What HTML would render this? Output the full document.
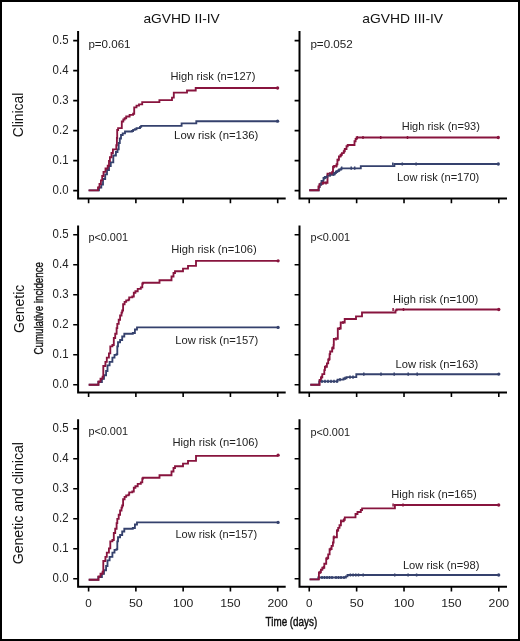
<!DOCTYPE html>
<html><head><meta charset="utf-8"><style>
html,body{margin:0;padding:0;background:#fff;}
#wrap{position:relative;width:520px;height:641px;overflow:hidden;}
#wrap svg{position:absolute;left:0;top:0;display:block;filter:blur(0.3px);}
#wrap svg text{font-family:"Liberation Sans",sans-serif;}
#frame{position:absolute;left:0;top:0;width:520px;height:641px;box-sizing:border-box;border:2px solid #000;}
</style></head><body><div id="wrap">
<svg width="520" height="641" viewBox="0 0 520 641">
<rect x="0" y="0" width="520" height="641" fill="#fff"/>
<path d="M78.1,31.1 V198.6 H285.7" fill="none" stroke="#000" stroke-width="2" stroke-linejoin="miter"/>
<path d="M73.2,190.65 H78.1 M73.2,160.65 H78.1 M73.2,130.65 H78.1 M73.2,100.65 H78.1 M73.2,70.65 H78.1 M73.2,40.65 H78.1 M88.6,198.6 V203.2 M135.88,198.6 V203.2 M183.15,198.6 V203.2 M230.42,198.6 V203.2 M277.7,198.6 V203.2 " fill="none" stroke="#000" stroke-width="1.6"/>
<text x="68.5" y="194.4" text-anchor="end" font-size="12.2" fill="#222" font-family="&quot;Liberation Sans&quot;, sans-serif" textLength="15.9" lengthAdjust="spacingAndGlyphs">0.0</text>
<text x="68.5" y="164.4" text-anchor="end" font-size="12.2" fill="#222" font-family="&quot;Liberation Sans&quot;, sans-serif" textLength="15.9" lengthAdjust="spacingAndGlyphs">0.1</text>
<text x="68.5" y="134.4" text-anchor="end" font-size="12.2" fill="#222" font-family="&quot;Liberation Sans&quot;, sans-serif" textLength="15.9" lengthAdjust="spacingAndGlyphs">0.2</text>
<text x="68.5" y="104.4" text-anchor="end" font-size="12.2" fill="#222" font-family="&quot;Liberation Sans&quot;, sans-serif" textLength="15.9" lengthAdjust="spacingAndGlyphs">0.3</text>
<text x="68.5" y="74.4" text-anchor="end" font-size="12.2" fill="#222" font-family="&quot;Liberation Sans&quot;, sans-serif" textLength="15.9" lengthAdjust="spacingAndGlyphs">0.4</text>
<text x="68.5" y="44.4" text-anchor="end" font-size="12.2" fill="#222" font-family="&quot;Liberation Sans&quot;, sans-serif" textLength="15.9" lengthAdjust="spacingAndGlyphs">0.5</text>
<path d="M299.5,31.1 V198.6 H507" fill="none" stroke="#000" stroke-width="2" stroke-linejoin="miter"/>
<path d="M294.6,190.65 H299.5 M294.6,160.65 H299.5 M294.6,130.65 H299.5 M294.6,100.65 H299.5 M294.6,70.65 H299.5 M294.6,40.65 H299.5 M309.25,198.6 V203.2 M356.64,198.6 V203.2 M404.02,198.6 V203.2 M451.41,198.6 V203.2 M498.8,198.6 V203.2 " fill="none" stroke="#000" stroke-width="1.6"/>
<path d="M78.1,225.4 V392.5 H285.7" fill="none" stroke="#000" stroke-width="2" stroke-linejoin="miter"/>
<path d="M73.2,384.7 H78.1 M73.2,354.7 H78.1 M73.2,324.7 H78.1 M73.2,294.7 H78.1 M73.2,264.7 H78.1 M73.2,234.7 H78.1 M88.6,392.5 V397.1 M135.88,392.5 V397.1 M183.15,392.5 V397.1 M230.42,392.5 V397.1 M277.7,392.5 V397.1 " fill="none" stroke="#000" stroke-width="1.6"/>
<text x="68.5" y="388.45" text-anchor="end" font-size="12.2" fill="#222" font-family="&quot;Liberation Sans&quot;, sans-serif" textLength="15.9" lengthAdjust="spacingAndGlyphs">0.0</text>
<text x="68.5" y="358.45" text-anchor="end" font-size="12.2" fill="#222" font-family="&quot;Liberation Sans&quot;, sans-serif" textLength="15.9" lengthAdjust="spacingAndGlyphs">0.1</text>
<text x="68.5" y="328.45" text-anchor="end" font-size="12.2" fill="#222" font-family="&quot;Liberation Sans&quot;, sans-serif" textLength="15.9" lengthAdjust="spacingAndGlyphs">0.2</text>
<text x="68.5" y="298.45" text-anchor="end" font-size="12.2" fill="#222" font-family="&quot;Liberation Sans&quot;, sans-serif" textLength="15.9" lengthAdjust="spacingAndGlyphs">0.3</text>
<text x="68.5" y="268.45" text-anchor="end" font-size="12.2" fill="#222" font-family="&quot;Liberation Sans&quot;, sans-serif" textLength="15.9" lengthAdjust="spacingAndGlyphs">0.4</text>
<text x="68.5" y="238.45" text-anchor="end" font-size="12.2" fill="#222" font-family="&quot;Liberation Sans&quot;, sans-serif" textLength="15.9" lengthAdjust="spacingAndGlyphs">0.5</text>
<path d="M299.5,225.4 V392.5 H507" fill="none" stroke="#000" stroke-width="2" stroke-linejoin="miter"/>
<path d="M294.6,384.7 H299.5 M294.6,354.7 H299.5 M294.6,324.7 H299.5 M294.6,294.7 H299.5 M294.6,264.7 H299.5 M294.6,234.7 H299.5 M309.25,392.5 V397.1 M356.64,392.5 V397.1 M404.02,392.5 V397.1 M451.41,392.5 V397.1 M498.8,392.5 V397.1 " fill="none" stroke="#000" stroke-width="1.6"/>
<path d="M78.1,419.3 V586.8 H285.7" fill="none" stroke="#000" stroke-width="2" stroke-linejoin="miter"/>
<path d="M73.2,578.7 H78.1 M73.2,548.7 H78.1 M73.2,518.7 H78.1 M73.2,488.7 H78.1 M73.2,458.7 H78.1 M73.2,428.7 H78.1 M88.6,586.8 V591.4 M135.88,586.8 V591.4 M183.15,586.8 V591.4 M230.42,586.8 V591.4 M277.7,586.8 V591.4 " fill="none" stroke="#000" stroke-width="1.6"/>
<text x="68.5" y="582.45" text-anchor="end" font-size="12.2" fill="#222" font-family="&quot;Liberation Sans&quot;, sans-serif" textLength="15.9" lengthAdjust="spacingAndGlyphs">0.0</text>
<text x="68.5" y="552.45" text-anchor="end" font-size="12.2" fill="#222" font-family="&quot;Liberation Sans&quot;, sans-serif" textLength="15.9" lengthAdjust="spacingAndGlyphs">0.1</text>
<text x="68.5" y="522.45" text-anchor="end" font-size="12.2" fill="#222" font-family="&quot;Liberation Sans&quot;, sans-serif" textLength="15.9" lengthAdjust="spacingAndGlyphs">0.2</text>
<text x="68.5" y="492.45" text-anchor="end" font-size="12.2" fill="#222" font-family="&quot;Liberation Sans&quot;, sans-serif" textLength="15.9" lengthAdjust="spacingAndGlyphs">0.3</text>
<text x="68.5" y="462.45" text-anchor="end" font-size="12.2" fill="#222" font-family="&quot;Liberation Sans&quot;, sans-serif" textLength="15.9" lengthAdjust="spacingAndGlyphs">0.4</text>
<text x="68.5" y="432.45" text-anchor="end" font-size="12.2" fill="#222" font-family="&quot;Liberation Sans&quot;, sans-serif" textLength="15.9" lengthAdjust="spacingAndGlyphs">0.5</text>
<text x="88.6" y="606.5" text-anchor="middle" font-size="11.6" fill="#222" font-family="&quot;Liberation Sans&quot;, sans-serif" textLength="6.5" lengthAdjust="spacingAndGlyphs">0</text>
<text x="135.88" y="606.5" text-anchor="middle" font-size="11.6" fill="#222" font-family="&quot;Liberation Sans&quot;, sans-serif" textLength="13.9" lengthAdjust="spacingAndGlyphs">50</text>
<text x="183.15" y="606.5" text-anchor="middle" font-size="11.6" fill="#222" font-family="&quot;Liberation Sans&quot;, sans-serif" textLength="20.4" lengthAdjust="spacingAndGlyphs">100</text>
<text x="230.42" y="606.5" text-anchor="middle" font-size="11.6" fill="#222" font-family="&quot;Liberation Sans&quot;, sans-serif" textLength="20.4" lengthAdjust="spacingAndGlyphs">150</text>
<text x="277.7" y="606.5" text-anchor="middle" font-size="11.6" fill="#222" font-family="&quot;Liberation Sans&quot;, sans-serif" textLength="20.4" lengthAdjust="spacingAndGlyphs">200</text>
<path d="M299.5,419.3 V586.8 H507" fill="none" stroke="#000" stroke-width="2" stroke-linejoin="miter"/>
<path d="M294.6,578.7 H299.5 M294.6,548.7 H299.5 M294.6,518.7 H299.5 M294.6,488.7 H299.5 M294.6,458.7 H299.5 M294.6,428.7 H299.5 M309.25,586.8 V591.4 M356.64,586.8 V591.4 M404.02,586.8 V591.4 M451.41,586.8 V591.4 M498.8,586.8 V591.4 " fill="none" stroke="#000" stroke-width="1.6"/>
<text x="309.25" y="606.5" text-anchor="middle" font-size="11.6" fill="#222" font-family="&quot;Liberation Sans&quot;, sans-serif" textLength="6.5" lengthAdjust="spacingAndGlyphs">0</text>
<text x="356.64" y="606.5" text-anchor="middle" font-size="11.6" fill="#222" font-family="&quot;Liberation Sans&quot;, sans-serif" textLength="13.9" lengthAdjust="spacingAndGlyphs">50</text>
<text x="404.02" y="606.5" text-anchor="middle" font-size="11.6" fill="#222" font-family="&quot;Liberation Sans&quot;, sans-serif" textLength="20.4" lengthAdjust="spacingAndGlyphs">100</text>
<text x="451.41" y="606.5" text-anchor="middle" font-size="11.6" fill="#222" font-family="&quot;Liberation Sans&quot;, sans-serif" textLength="20.4" lengthAdjust="spacingAndGlyphs">150</text>
<text x="498.8" y="606.5" text-anchor="middle" font-size="11.6" fill="#222" font-family="&quot;Liberation Sans&quot;, sans-serif" textLength="20.4" lengthAdjust="spacingAndGlyphs">200</text>
<path d="M88.6,190.3 H99 V187.5 H101.3 V184.6 H103 V179 H105.2 V174.3 H107 V170 H109 V166 H110.75 V162.3 H113.3 V155.5 H115.9 V152 H117.5 V149.4 H118.7 V143 H119.8 V138.5 H121 V135 H122.7 V133.3 H125 V131.5 H131.9 V131 H133.1 V129.8 H134.8 V129.2 H136.5 V128.1 H140 V126.9 H141.2 V125.8 H181.6 V123.3 H196.3 V121.2 H277.6" fill="none" stroke="#35416d" stroke-width="1.85" stroke-linejoin="miter"/>
<path d="M88.6,190.3 H98 V187.5 H99.5 V184 H100.9 V180.3 H102.2 V176 H103.5 V171.8 H105.5 V168.5 H107.7 V165.7 H109 V161 H109.9 V157.2 H111.5 V153 H112.9 V149.4 H116.3 V145.2 H116.9 V138 H117.2 V130 H118.1 V128.1 H121.8 V121.5 H123.3 V119.5 H124.6 V118.2 H126.2 V116.5 H129.6 V114.8 H133.1 V113.7 H134.2 V107.3 H136.5 V105.6 H139 V104.4 H142.2 V102.1 H159.4 V100.1 H172 V97.6 H173.8 V92.6 H187 V90.5 H195.7 V88 H277.6" fill="none" stroke="#88143e" stroke-width="1.85" stroke-linejoin="miter"/>
<path d="" fill="none" stroke="#35416d" stroke-width="1.5"/>
<circle cx="277.6" cy="121.2" r="1.65" fill="#35416d"/>
<path d="" fill="none" stroke="#88143e" stroke-width="1.5"/>
<circle cx="277.6" cy="88" r="1.65" fill="#88143e"/>
<path d="M309.2,190.2 H318.8 V187 H319.7 V184.2 H321.5 V181 H323.5 V178 H325 V177 H327.4 V175.5 H330 V174.8 H333.5 V174.2 H334.8 V173 H335.8 V172 H337 V171.2 H338.2 V170.4 H339.5 V169.5 H341.2 V168.4 H360.8 V166.1 H394.4 V164 H498.3" fill="none" stroke="#35416d" stroke-width="1.85" stroke-linejoin="miter"/>
<path d="M309.2,190.2 H318.5 V186.5 H319.5 V184.5 H320.6 V183.7 H322.3 V182.9 H327.5 V173.6 H332 V172.2 H333 V166.6 H334.5 V165.8 H336.6 V164.2 H337.4 V159.6 H338.9 V156.5 H340.5 V154.8 H341.9 V153.1 H343.7 V151.3 H344.8 V149 H346.5 V146.2 H347.7 V145 H354.5 V141.2 H355.6 V139 H356.6 V137.5 H498.3" fill="none" stroke="#88143e" stroke-width="1.85" stroke-linejoin="miter"/>
<path d="M341.7,166.6 V169.8 M351.2,166.6 V169.8 M354.7,166.6 V169.8 " fill="none" stroke="#35416d" stroke-width="1.5"/>
<path d="M392.8,162.4 V165.6 M402.3,162.4 V165.6 M416.1,162.4 V165.6 " fill="none" stroke="#35416d" stroke-width="1.5"/>
<circle cx="498.3" cy="164" r="1.65" fill="#35416d"/>
<path d="M357.3,135.9 V139.1 M363,135.9 V139.1 M380.7,135.9 V139.1 M407.5,135.9 V139.1 " fill="none" stroke="#88143e" stroke-width="1.5"/>
<circle cx="498.3" cy="137.5" r="1.65" fill="#88143e"/>
<path d="M323.5,181.3 V184.5 M326,181.3 V184.5 M330,172 V175.2 M334,165 V168.2 M336.5,164.2 V167.4 M338.6,158 V161.2 M341.3,153.2 V156.4 M344,149.7 V152.9 " fill="none" stroke="#88143e" stroke-width="1.5"/>
<path d="M321,182.6 V185.8 M324.5,176.4 V179.6 M327,175.4 V178.6 M330,173.2 V176.4 M333.5,172.6 V175.8 M336,170.4 V173.6 M339,168.8 V172 " fill="none" stroke="#35416d" stroke-width="1.5"/>
<path d="M88.7,384.7 H98.3 V382 H101.9 V378.7 H104 V375.2 H106.1 V371 H107.5 V365.3 H109.6 V361.8 H112.4 V357.6 H114.5 V354.8 H116.6 V354.1 H117.3 V346.4 H118 V342.2 H120.1 V340 H122.2 V336.5 H124.3 V333.7 H132.8 V333 H134.9 V329.5 H137 V327.4 H278.1" fill="none" stroke="#35416d" stroke-width="1.85" stroke-linejoin="miter"/>
<path d="M88.7,384.7 H98.5 V381.5 H100.5 V378.7 H102.6 V376.6 H103.3 V366 H105.4 V361.8 H106.8 V357.6 H108.9 V353.4 H110.3 V346.4 H112.4 V345 H113.8 V338 H115.2 V333.7 H116.6 V328.1 H117.3 V323.9 H118.7 V319.7 H120.1 V315.5 H121.5 V312.6 H122.2 V310.5 H123.1 V304.2 H124.6 V301.9 H126.2 V300.4 H128.5 V299.6 H129.2 V297.3 H132.3 V296.5 H133.8 V292.7 H135.4 V291.2 H137.7 V288.8 H140.8 V287.3 H142.3 V283.5 H143.1 V282.7 H159.5 V280.2 H171.5 V276.5 H173.5 V273 H175 V271.2 H183 V268.6 H188 V265.8 H196 V260.8 H278.1" fill="none" stroke="#88143e" stroke-width="1.85" stroke-linejoin="miter"/>
<path d="" fill="none" stroke="#35416d" stroke-width="1.5"/>
<circle cx="278.1" cy="327.4" r="1.65" fill="#35416d"/>
<path d="" fill="none" stroke="#88143e" stroke-width="1.5"/>
<circle cx="278.1" cy="260.8" r="1.65" fill="#88143e"/>
<path d="M310.3,384.7 H319.2 V381.4 H337.6 V379.6 H343.5 V378.4 H346.5 V377.1 H356.3 V374.2 H498.8" fill="none" stroke="#35416d" stroke-width="1.85" stroke-linejoin="miter"/>
<path d="M310.3,384.7 H319.6 V380 H320.9 V377.4 H322.3 V374.1 H324.3 V370.1 H324.9 V366.8 H326.9 V363.4 H328.2 V359.4 H329.6 V354.1 H330.2 V351.5 H332.2 V348.2 H333.6 V344.8 H333.8 V338.9 H337.8 V328.5 H340.7 V322.5 H344.7 V319 H356 V316.4 H362 V312.5 H395.5 V310.4 H396.6 V309.5 H498.8" fill="none" stroke="#88143e" stroke-width="1.85" stroke-linejoin="miter"/>
<path d="M322,379.8 V383 M325,379.8 V383 M328,379.8 V383 M331,379.8 V383 M334,379.8 V383 M337,379.8 V383 M340,378 V381.2 M345,376.8 V380 M350,375.5 V378.7 M353,375.5 V378.7 " fill="none" stroke="#35416d" stroke-width="1.5"/>
<path d="M321.5,375.8 V379 M325.5,365.2 V368.4 M329,357.8 V361 M332.5,346.6 V349.8 M336,337.3 V340.5 M339.5,326.9 V330.1 M343,320.9 V324.1 " fill="none" stroke="#88143e" stroke-width="1.5"/>
<path d="M363.8,372.5 V375.7 M381,372.5 V375.7 M394.2,372.5 V375.7 M408.2,372.5 V375.7 M417.2,372.5 V375.7 " fill="none" stroke="#35416d" stroke-width="1.5"/>
<circle cx="498.8" cy="374.1" r="1.65" fill="#35416d"/>
<path d="M393.1,307.9 V311.1 M403.5,307.9 V311.1 " fill="none" stroke="#88143e" stroke-width="1.5"/>
<circle cx="498.8" cy="309.5" r="1.65" fill="#88143e"/>
<path d="M88.7,579.7 H98.3 V577 H101.9 V573.7 H104 V570.2 H106.1 V566 H107.5 V560.3 H109.6 V556.8 H112.4 V552.6 H114.5 V549.8 H116.6 V549.1 H117.3 V541.4 H118 V537.2 H120.1 V535 H122.2 V531.5 H124.3 V528.7 H132.8 V528 H134.9 V524.5 H137 V522.4 H278.1" fill="none" stroke="#35416d" stroke-width="1.85" stroke-linejoin="miter"/>
<path d="M88.7,579.7 H98.5 V576.5 H100.5 V573.7 H102.6 V571.6 H103.3 V561 H105.4 V556.8 H106.8 V552.6 H108.9 V548.4 H110.3 V541.4 H112.4 V540 H113.8 V533 H115.2 V528.7 H116.6 V523.1 H117.3 V518.9 H118.7 V514.7 H120.1 V510.5 H121.5 V507.6 H122.2 V505.5 H123.1 V499.2 H124.6 V496.9 H126.2 V495.4 H128.5 V494.6 H129.2 V492.3 H132.3 V491.5 H133.8 V487.7 H135.4 V486.2 H137.7 V483.8 H140.8 V482.3 H142.3 V478.5 H143.1 V477.7 H159.5 V475.2 H171.5 V471.5 H173.5 V468 H175 V466.2 H183 V463.6 H188 V460.8 H196 V455.8 H278.1" fill="none" stroke="#88143e" stroke-width="1.85" stroke-linejoin="miter"/>
<path d="" fill="none" stroke="#35416d" stroke-width="1.5"/>
<circle cx="278.1" cy="522.4" r="1.65" fill="#35416d"/>
<path d="" fill="none" stroke="#88143e" stroke-width="1.5"/>
<circle cx="278.1" cy="455.2" r="1.65" fill="#88143e"/>
<path d="M309.6,579.3 H318.3 V577.5 H345.9 V576.4 H347.5 V575 H498.7" fill="none" stroke="#35416d" stroke-width="1.85" stroke-linejoin="miter"/>
<path d="M309.6,579.3 H318.9 V572.4 H320.9 V569.7 H322.3 V567.7 H324.3 V563.7 H326.2 V558.4 H328.2 V554.4 H329.6 V549.1 H331.6 V545.8 H332.9 V542.5 H333.6 V537.2 H336.9 V530.5 H338.2 V527.9 H339.5 V525.2 H340.9 V521.2 H343.5 V519.9 H344.8 V517.3 H355.5 V514 H357.5 V512 H360.8 V510 H362.1 V508.3 H394.9 V505 H498.7" fill="none" stroke="#88143e" stroke-width="1.85" stroke-linejoin="miter"/>
<path d="M322,575.9 V579.1 M324.5,575.9 V579.1 M327,575.9 V579.1 M329.5,575.9 V579.1 M332,575.9 V579.1 M336,575.9 V579.1 M338.5,575.9 V579.1 M341,575.9 V579.1 M344,575.9 V579.1 " fill="none" stroke="#35416d" stroke-width="1.5"/>
<path d="M350.4,573.4 V576.6 M353.1,573.4 V576.6 M355.8,573.4 V576.6 M358.5,573.4 V576.6 M363.2,573.4 V576.6 M394.7,573.4 V576.6 M408.1,573.4 V576.6 M416.6,573.4 V576.6 " fill="none" stroke="#35416d" stroke-width="1.5"/>
<circle cx="498.7" cy="575" r="1.65" fill="#35416d"/>
<path d="M393.1,503.4 V506.6 M403,503.4 V506.6 " fill="none" stroke="#88143e" stroke-width="1.5"/>
<circle cx="498.7" cy="505" r="1.65" fill="#88143e"/>
<path d="M320,570.8 V574 M323.5,566.1 V569.3 M327,556.8 V560 M330.5,547.5 V550.7 M334,535.6 V538.8 M337.5,528.9 V532.1 M341,519.6 V522.8 M344,518.3 V521.5 " fill="none" stroke="#88143e" stroke-width="1.5"/>
<text x="143.4" y="22.7" font-size="12.9" fill="#111" font-family="&quot;Liberation Sans&quot;, sans-serif" textLength="76.4" lengthAdjust="spacingAndGlyphs">aGVHD II-IV</text>
<text x="362.3" y="22.7" font-size="12.9" fill="#111" font-family="&quot;Liberation Sans&quot;, sans-serif" textLength="80.8" lengthAdjust="spacingAndGlyphs">aGVHD III-IV</text>
<text x="0" y="0" transform="translate(23,115) rotate(-90)" text-anchor="middle" font-size="13.8" fill="#111" font-family="&quot;Liberation Sans&quot;, sans-serif" textLength="44.6" lengthAdjust="spacingAndGlyphs">Clinical</text>
<text x="0" y="0" transform="translate(23.5,308.8) rotate(-90)" text-anchor="middle" font-size="13.8" fill="#111" font-family="&quot;Liberation Sans&quot;, sans-serif" textLength="48.2" lengthAdjust="spacingAndGlyphs">Genetic</text>
<text x="0" y="0" transform="translate(23,503.2) rotate(-90)" text-anchor="middle" font-size="13.8" fill="#111" font-family="&quot;Liberation Sans&quot;, sans-serif" textLength="122.3" lengthAdjust="spacingAndGlyphs">Genetic and clinical</text>
<text x="0" y="0" transform="translate(42.8,308.3) rotate(-90)" text-anchor="middle" font-size="12.3" fill="#111" font-family="&quot;Liberation Sans&quot;, sans-serif" textLength="92.4" lengthAdjust="spacingAndGlyphs" stroke="#111" stroke-width="0.35">Cumulative incidence</text>
<text x="265.6" y="626" font-size="13.0" fill="#111" font-family="&quot;Liberation Sans&quot;, sans-serif" textLength="51.6" lengthAdjust="spacingAndGlyphs" stroke="#111" stroke-width="0.45">Time (days)</text>
<text x="88.4" y="47.7" font-size="10.6" fill="#222" font-family="&quot;Liberation Sans&quot;, sans-serif" textLength="42.1" lengthAdjust="spacingAndGlyphs">p=0.061</text>
<text x="310.4" y="47.7" font-size="10.6" fill="#222" font-family="&quot;Liberation Sans&quot;, sans-serif" textLength="42.4" lengthAdjust="spacingAndGlyphs">p=0.052</text>
<text x="88.4" y="241" font-size="10.6" fill="#222" font-family="&quot;Liberation Sans&quot;, sans-serif" textLength="39.6" lengthAdjust="spacingAndGlyphs">p&lt;0.001</text>
<text x="310.4" y="241" font-size="10.6" fill="#222" font-family="&quot;Liberation Sans&quot;, sans-serif" textLength="39.6" lengthAdjust="spacingAndGlyphs">p&lt;0.001</text>
<text x="88.4" y="435.3" font-size="10.6" fill="#222" font-family="&quot;Liberation Sans&quot;, sans-serif" textLength="39.6" lengthAdjust="spacingAndGlyphs">p&lt;0.001</text>
<text x="310.4" y="435.6" font-size="10.6" fill="#222" font-family="&quot;Liberation Sans&quot;, sans-serif" textLength="39.6" lengthAdjust="spacingAndGlyphs">p&lt;0.001</text>
<text x="170.6" y="79.5" font-size="10.6" fill="#222" font-family="&quot;Liberation Sans&quot;, sans-serif" textLength="84.9" lengthAdjust="spacingAndGlyphs">High risk (n=127)</text>
<text x="174.1" y="138.6" font-size="10.6" fill="#222" font-family="&quot;Liberation Sans&quot;, sans-serif" textLength="84.2" lengthAdjust="spacingAndGlyphs">Low risk (n=136)</text>
<text x="401.7" y="130.4" font-size="10.6" fill="#222" font-family="&quot;Liberation Sans&quot;, sans-serif" textLength="78.2" lengthAdjust="spacingAndGlyphs">High risk (n=93)</text>
<text x="397.1" y="180.5" font-size="10.6" fill="#222" font-family="&quot;Liberation Sans&quot;, sans-serif" textLength="82.2" lengthAdjust="spacingAndGlyphs">Low risk (n=170)</text>
<text x="171.3" y="253" font-size="10.6" fill="#222" font-family="&quot;Liberation Sans&quot;, sans-serif" textLength="85.4" lengthAdjust="spacingAndGlyphs">High risk (n=106)</text>
<text x="175.2" y="344" font-size="10.6" fill="#222" font-family="&quot;Liberation Sans&quot;, sans-serif" textLength="83.1" lengthAdjust="spacingAndGlyphs">Low risk (n=157)</text>
<text x="392.9" y="302.8" font-size="10.6" fill="#222" font-family="&quot;Liberation Sans&quot;, sans-serif" textLength="85.4" lengthAdjust="spacingAndGlyphs">High risk (n=100)</text>
<text x="395.5" y="368.3" font-size="10.6" fill="#222" font-family="&quot;Liberation Sans&quot;, sans-serif" textLength="82.8" lengthAdjust="spacingAndGlyphs">Low risk (n=163)</text>
<text x="172.5" y="446.4" font-size="10.6" fill="#222" font-family="&quot;Liberation Sans&quot;, sans-serif" textLength="85.8" lengthAdjust="spacingAndGlyphs">High risk (n=106)</text>
<text x="175.5" y="537.8" font-size="10.6" fill="#222" font-family="&quot;Liberation Sans&quot;, sans-serif" textLength="81.6" lengthAdjust="spacingAndGlyphs">Low risk (n=157)</text>
<text x="391.3" y="498.3" font-size="10.6" fill="#222" font-family="&quot;Liberation Sans&quot;, sans-serif" textLength="85.4" lengthAdjust="spacingAndGlyphs">High risk (n=165)</text>
<text x="402.9" y="569.3" font-size="10.6" fill="#222" font-family="&quot;Liberation Sans&quot;, sans-serif" textLength="76.5" lengthAdjust="spacingAndGlyphs">Low risk (n=98)</text>
</svg>
<div id="frame"></div>
</div></body></html>
